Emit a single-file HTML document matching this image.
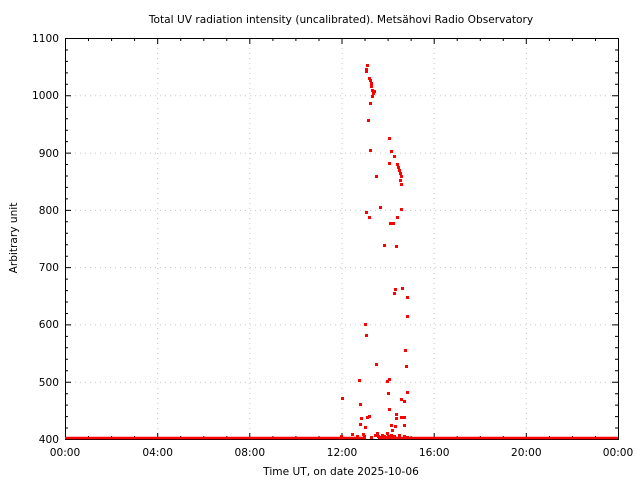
<!DOCTYPE html>
<html><head><meta charset="utf-8"><style>
html,body{margin:0;padding:0;background:#fff}
svg{display:block;font-family:"DejaVu Sans","Liberation Sans",sans-serif}
</style></head><body>
<svg width="640" height="480" viewBox="0 0 640 480" xmlns="http://www.w3.org/2000/svg">
<rect width="640" height="480" fill="#fff"/>
<g stroke="#c8c8c8" stroke-width="1" stroke-dasharray="1,4">
<line x1="65" y1="382.2" x2="618" y2="382.2"/>
<line x1="65" y1="324.9" x2="618" y2="324.9"/>
<line x1="65" y1="267.6" x2="618" y2="267.6"/>
<line x1="65" y1="210.4" x2="618" y2="210.4"/>
<line x1="65" y1="153.1" x2="618" y2="153.1"/>
<line x1="65" y1="95.8" x2="618" y2="95.8"/>
<line x1="157.7" y1="38" x2="157.7" y2="439"/>
<line x1="249.8" y1="38" x2="249.8" y2="439"/>
<line x1="342" y1="38" x2="342" y2="439"/>
<line x1="434.2" y1="38" x2="434.2" y2="439"/>
<line x1="526.3" y1="38" x2="526.3" y2="439"/>
</g>
<rect x="65.5" y="38.5" width="553" height="401" fill="none" stroke="#000" stroke-width="1"/>
<path stroke="#000" stroke-width="1" fill="none" d="
M88.5 439v-3M111.6 439v-3M134.6 439v-3M157.7 439v-6M180.7 439v-3M203.8 439v-3M226.8 439v-3M249.8 439v-6M272.9 439v-3M295.9 439v-3M319 439v-3M342 439v-6M365 439v-3M388.1 439v-3M411.1 439v-3M434.2 439v-6M457.2 439v-3M480.3 439v-3M503.3 439v-3M526.3 439v-6M549.4 439v-3M572.4 439v-3M595.5 439v-3
M88.5 38v3M111.6 38v3M134.6 38v3M157.7 38v6M180.7 38v3M203.8 38v3M226.8 38v3M249.8 38v6M272.9 38v3M295.9 38v3M319 38v3M342 38v6M365 38v3M388.1 38v3M411.1 38v3M434.2 38v6M457.2 38v3M480.3 38v3M503.3 38v3M526.3 38v6M549.4 38v3M572.4 38v3M595.5 38v3
M65 428h3M65 416.6h3M65 405.1h3M65 393.7h3M65 382.2h6M65 370.8h3M65 359.3h3M65 347.8h3M65 336.4h3M65 324.9h6M65 313.5h3M65 302h3M65 290.6h3M65 279.1h3M65 267.6h6M65 256.2h3M65 244.7h3M65 233.3h3M65 221.8h3M65 210.4h6M65 198.9h3M65 187.4h3M65 176h3M65 164.5h3M65 153.1h6M65 141.6h3M65 130.2h3M65 118.7h3M65 107.2h3M65 95.8h6M65 84.3h3M65 72.9h3M65 61.4h3M65 50h3
M618 428h-3M618 416.6h-3M618 405.1h-3M618 393.7h-3M618 382.2h-6M618 370.8h-3M618 359.3h-3M618 347.8h-3M618 336.4h-3M618 324.9h-6M618 313.5h-3M618 302h-3M618 290.6h-3M618 279.1h-3M618 267.6h-6M618 256.2h-3M618 244.7h-3M618 233.3h-3M618 221.8h-3M618 210.4h-6M618 198.9h-3M618 187.4h-3M618 176h-3M618 164.5h-3M618 153.1h-6M618 141.6h-3M618 130.2h-3M618 118.7h-3M618 107.2h-3M618 95.8h-6M618 84.3h-3M618 72.9h-3M618 61.4h-3M618 50h-3"/>
<g font-size="10.6" fill="#000" text-anchor="end">
<text x="59" y="443">400</text><text x="59" y="386">500</text><text x="59" y="328">600</text>
<text x="59" y="271">700</text><text x="59" y="214">800</text><text x="59" y="157">900</text>
<text x="59" y="99">1000</text><text x="59" y="42">1100</text>
</g>
<g font-size="10.6" fill="#000" text-anchor="middle">
<text x="65" y="456">00:00</text><text x="157.7" y="456">04:00</text><text x="249.8" y="456">08:00</text>
<text x="342" y="456">12:00</text><text x="434.2" y="456">16:00</text><text x="526.3" y="456">20:00</text>
<text x="618" y="456">00:00</text>
<text x="341" y="475">Time UT, on date 2025-10-06</text>
<text x="341" y="23">Total UV radiation intensity (uncalibrated). Metsähovi Radio Observatory</text>
<text transform="translate(17,238) rotate(-90)">Arbitrary unit</text>
</g>
<g stroke="#f00" stroke-width="2.5">
<line x1="65" y1="438" x2="366" y2="438"/>
<line x1="378" y1="438" x2="618" y2="438"/>
</g>
<path fill="#f00" d="
M366 64h3v3h-3z M365 68h3v3h-3z M365 70h3v3h-3z M368 77h3v3h-3z M369 79h3v3h-3z M370 82h3v3h-3z M370 85h3v3h-3z M371 89h3v3h-3z M373 90h3v3h-3z M372 92h3v3h-3z M371 95h3v3h-3z M369 102h3v3h-3z M367 119h3v3h-3z M369 149h3v3h-3z
M388 137h3v3h-3z M390 150h3v3h-3z M393 155h3v3h-3z M388 162h3v3h-3z M396 163h3v3h-3z M397 166h3v3h-3z M398 169h3v3h-3z M399 172h3v3h-3z M400 175h3v3h-3z M399 179h3v3h-3z M400 183h3v3h-3z M375 175h3v3h-3z
M379 206h3v3h-3z M365 211h3v3h-3z M368 216h3v3h-3z M400 208h3v3h-3z M392 222h3v3h-3z M389 222h3v3h-3z M396 216h3v3h-3z M383 244h3v3h-3z M395 245h3v3h-3z
M394 288h3v3h-3z M401 287h3v3h-3z M406 296h3v3h-3z M393 292h3v3h-3z M406 315h3v3h-3z M364 323h3v3h-3z M365 334h3v3h-3z M404 349h3v3h-3z M405 365h3v3h-3z M375 363h3v3h-3z
M388 378h3v3h-3z M386 380h3v3h-3z M358 379h3v3h-3z M387 392h3v3h-3z M406 391h3v3h-3z M341 397h3v3h-3z M400 398h3v3h-3z M359 403h3v3h-3z M388 408h3v3h-3z M366 416h3v3h-3z M360 417h3v3h-3z M395 417h3v3h-3z M403 400h3v3h-3z M403 416h3v3h-3z
M340 435h3v3h-3z M351 433h3v3h-3z M356 435h3v3h-3z M362 433h3v3h-3z M363 435h3v3h-3z M364 426h3v3h-3z M368 415h3v3h-3z M359 423h3v3h-3z M376 432h3v3h-3z M377 435h3v3h-3z M381 434h3v3h-3z M383 435h3v3h-3z M386 432h3v3h-3z M387 435h3v3h-3z M390 434h3v3h-3z M390 424h3v3h-3z M391 429h3v3h-3z M394 425h3v3h-3z M395 413h3v3h-3z M400 416h3v3h-3z M403 424h3v3h-3z M403 435h3v3h-3z M406 436h3v3h-3z M379 436h3v3h-3z M384 436h3v3h-3z M393 435h3v3h-3z M398 434h3v3h-3z M370 436h3v3h-3z M374 434h3v3h-3z"/>
</svg>
</body></html>
